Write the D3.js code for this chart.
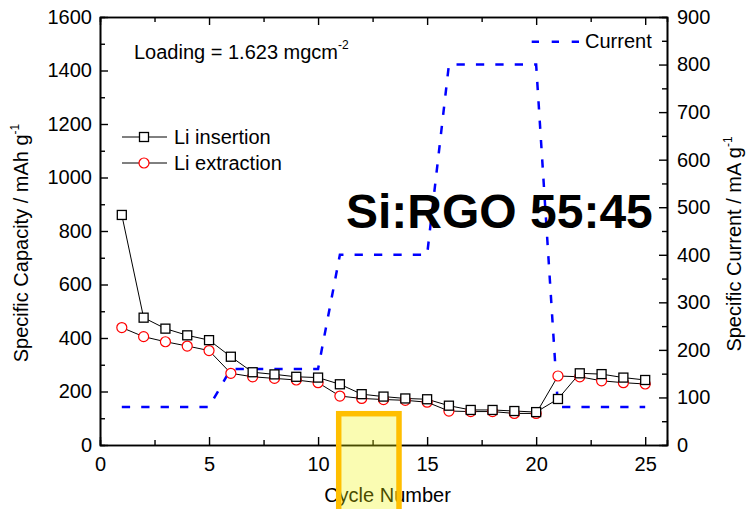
<!DOCTYPE html>
<html>
<head>
<meta charset="utf-8">
<script src="https://cdn.jsdelivr.net/npm/d3@7"></script>
<style>
  body { margin: 0; background: #fff; }
  svg { font-family: "Liberation Sans", Arial, sans-serif; }
</style>
</head>
<body>
<div id="chart"></div>
<script>
// values
const cycles = [1,2,3,4,5,6,7,8,9,10,11,12,13,14,15,16,17,18,19,20,21,22,23,24,25];
const insertion = [860,476,435,410,392,330,272,264,255,252,227,190,181,174,171,147,131,131,127,123,172,268,265,252,243];
const extraction = [439,405,386,370,353,268,255,249,243,233,183,174,170,167,160,127,125,125,118,118,258,255,240,233,228];
const current = [80,80,80,80,80,160,160,160,160,160,400,400,400,400,400,800,800,800,800,800,80,80,80,80,80];
const xTicks = [0,5,10,15,20,25];
const yLeftTicks = [0,200,400,600,800,1000,1200,1400,1600];
const yRightTicks = [0,100,200,300,400,500,600,700,800,900];

const width = 748, height = 509;
const margin = {top: 17, right: 81, bottom: 64, left: 100};

const svg = d3.select('#chart').append('svg')
  .attr('width', width)
  .attr('height', height);

const x = d3.scaleLinear().domain([0, 26]).range([margin.left, width - margin.right]);
const yL = d3.scaleLinear().domain([0, 1600]).range([height - margin.bottom, margin.top]);
const yR = d3.scaleLinear().domain([0, 900]).range([height - margin.bottom, margin.top]);

const x0 = x.range()[0], x1 = x.range()[1];
const y0 = yL.range()[0], y1 = yL.range()[1];
const fmt = d3.format('d');

// axes, ticks pointing inward
function styleAxis(g) {
  g.select('.domain').attr('stroke', '#000').attr('stroke-width', 1.6);
  g.selectAll('.tick line').attr('stroke', '#000').attr('stroke-width', 1.4);
  g.selectAll('.tick text').attr('fill', '#000').style('font-size', '20px');
}

svg.append('g')
  .attr('transform', `translate(0,${y0})`)
  .call(d3.axisBottom(x).tickValues(xTicks).tickFormat(fmt).tickSizeInner(-8).tickSizeOuter(0).tickPadding(12))
  .call(styleAxis);
svg.append('g')
  .attr('transform', `translate(0,${y0})`)
  .call(d3.axisBottom(x).tickValues([2.5,7.5,12.5,17.5,22.5]).tickSize(-5).tickFormat(''))
  .call(styleAxis);
svg.append('g')
  .attr('transform', `translate(0,${y1})`)
  .call(d3.axisTop(x).tickValues(xTicks).tickSizeInner(-8).tickSizeOuter(0).tickFormat(''))
  .call(styleAxis);
svg.append('g')
  .attr('transform', `translate(0,${y1})`)
  .call(d3.axisTop(x).tickValues([2.5,7.5,12.5,17.5,22.5]).tickSize(-5).tickFormat(''))
  .call(styleAxis);

svg.append('g')
  .attr('transform', `translate(${x0},0)`)
  .call(d3.axisLeft(yL).tickValues(yLeftTicks).tickFormat(fmt).tickSizeInner(-8).tickSizeOuter(0).tickPadding(8))
  .call(styleAxis);
svg.append('g')
  .attr('transform', `translate(${x0},0)`)
  .call(d3.axisLeft(yL).tickValues(d3.range(100, 1600, 200)).tickSize(-5).tickFormat(''))
  .call(styleAxis);

svg.append('g')
  .attr('transform', `translate(${x1},0)`)
  .call(d3.axisRight(yR).tickValues(yRightTicks).tickFormat(fmt).tickSizeInner(-8).tickSizeOuter(0).tickPadding(10))
  .call(styleAxis);
svg.append('g')
  .attr('transform', `translate(${x1},0)`)
  .call(d3.axisRight(yR).tickValues(d3.range(50, 900, 100)).tickSize(-5).tickFormat(''))
  .call(styleAxis);

// axis titles
svg.append('text')
  .attr('transform', `translate(${x0 + (x1 - x0) / 2 + 4},${height - 7})`)
  .attr('text-anchor', 'middle')
  .style('font-size', '20px')
  .text('Cycle Number');

const lt = svg.append('text')
  .attr('transform', 'translate(28,243) rotate(-90)')
  .attr('text-anchor', 'middle')
  .style('font-size', '20px');
lt.append('tspan').text('Specific Capacity / mAh g');
lt.append('tspan').attr('dy', -9).style('font-size', '12px').text('-1');

const rt = svg.append('text')
  .attr('transform', 'translate(741,244) rotate(-90)')
  .attr('text-anchor', 'middle')
  .style('font-size', '20px');
rt.append('tspan').text('Specific Current / mA g');
rt.append('tspan').attr('dy', -9).style('font-size', '12px').text('-1');

// current (right axis)
svg.append('path')
  .datum(cycles.map((c, i) => [c, current[i]]))
  .attr('fill', 'none')
  .attr('stroke', '#0000ff')
  .attr('stroke-width', 2.5)
  .attr('stroke-dasharray', '8.3,11.1')
  .attr('d', d3.line().x(d => x(d[0])).y(d => yR(d[1])));

// capacity series
const line = d3.line().x(d => x(d[0])).y(d => yL(d[1]));
const extPts = cycles.map((c, i) => [c, extraction[i]]);
const insPts = cycles.map((c, i) => [c, insertion[i]]);

svg.append('path').datum(extPts)
  .attr('fill', 'none').attr('stroke', '#000').attr('stroke-width', 1)
  .attr('d', line);
svg.append('path').datum(insPts)
  .attr('fill', 'none').attr('stroke', '#000').attr('stroke-width', 1)
  .attr('d', line);

svg.selectAll('circle.ext')
  .data(extPts)
  .enter()
  .append('circle')
  .attr('class', 'ext')
  .attr('cx', d => x(d[0]))
  .attr('cy', d => yL(d[1]))
  .attr('r', 5)
  .attr('fill', '#fff')
  .attr('stroke', '#ff0000')
  .attr('stroke-width', 1.2);

svg.selectAll('rect.ins')
  .data(insPts)
  .enter()
  .append('rect')
  .attr('class', 'ins')
  .attr('x', d => x(d[0]) - 4.5)
  .attr('y', d => yL(d[1]) - 4.5)
  .attr('width', 9)
  .attr('height', 9)
  .attr('fill', '#fff')
  .attr('stroke', '#000')
  .attr('stroke-width', 1.3);

// legend
const leg = svg.append('g');
leg.append('line').attr('x1', 122).attr('x2', 167).attr('y1', 137).attr('y2', 137)
  .attr('stroke', '#000').attr('stroke-width', 1);
leg.append('rect').attr('x', 139.5).attr('y', 132.5).attr('width', 9).attr('height', 9)
  .attr('fill', '#fff').attr('stroke', '#000').attr('stroke-width', 1.3);
leg.append('text').attr('x', 174).attr('y', 144).style('font-size', '20px').text('Li insertion');

leg.append('line').attr('x1', 122).attr('x2', 167).attr('y1', 163).attr('y2', 163)
  .attr('stroke', '#000').attr('stroke-width', 1);
leg.append('circle').attr('cx', 144).attr('cy', 163).attr('r', 5)
  .attr('fill', '#fff').attr('stroke', '#ff0000').attr('stroke-width', 1.2);
leg.append('text').attr('x', 174).attr('y', 170).style('font-size', '20px').text('Li extraction');

leg.append('line').attr('x1', 531.7).attr('x2', 579).attr('y1', 41.7).attr('y2', 41.7)
  .attr('stroke', '#0000ff').attr('stroke-width', 2.5).attr('stroke-dasharray', '7.3,12.7');
leg.append('text').attr('x', 585).attr('y', 48).style('font-size', '20px').text('Current');

// annotations
const ld = svg.append('text').attr('x', 134).attr('y', 59).style('font-size', '20px');
ld.append('tspan').text('Loading = 1.623 mgcm');
ld.append('tspan').attr('dy', -10).style('font-size', '12px').text('-2');

svg.append('text')
  .attr('x', 346)
  .attr('y', 228)
  .style('font-size', '48px')
  .style('font-weight', 'bold')
  .text('Si:RGO 55:45');

// highlight box over the x axis
svg.append('rect')
  .attr('x', 338.7)
  .attr('y', 413.7)
  .attr('width', 60.3)
  .attr('height', 110)
  .attr('fill', 'rgb(238,245,0)')
  .attr('fill-opacity', 0.3)
  .attr('stroke', '#ffbf00')
  .attr('stroke-width', 5.5);
</script>
</body>
</html>
